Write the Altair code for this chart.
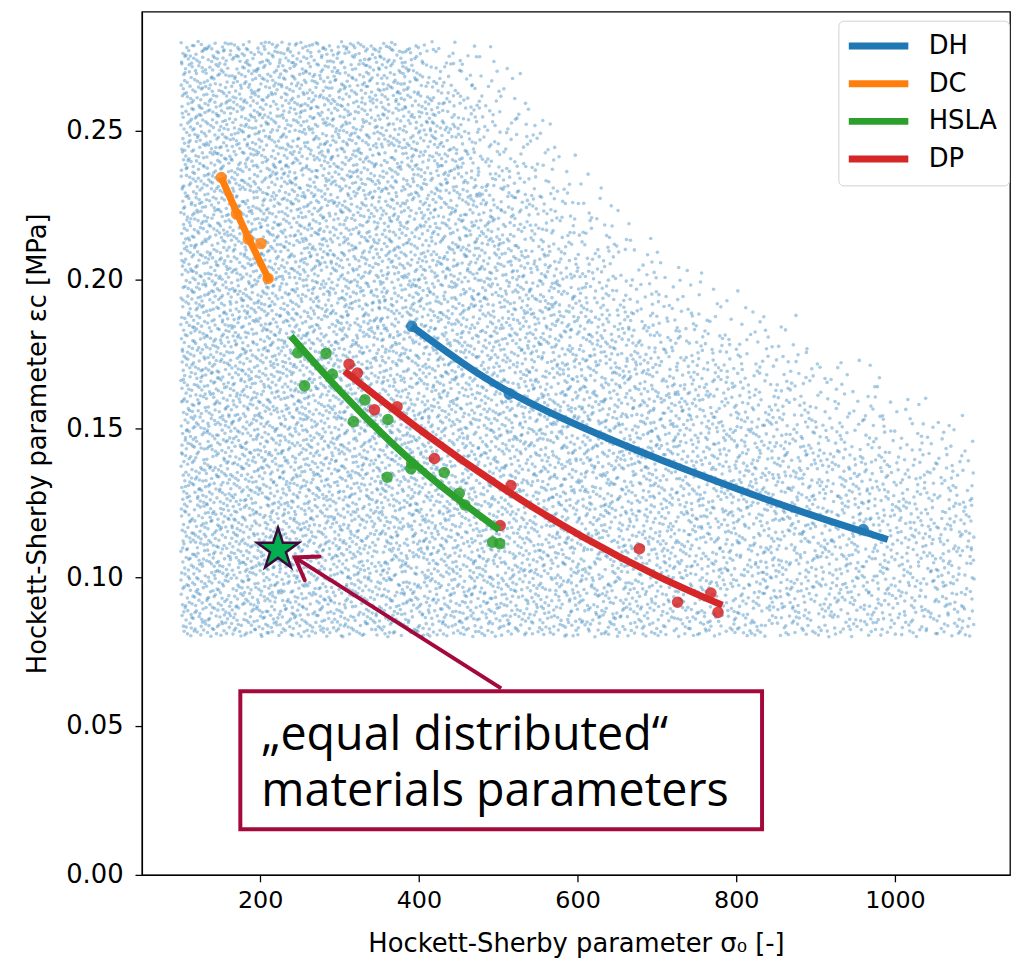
import altair as alt
import pandas as pd
import numpy as np

# ---------------- data ----------------
series_names = ["DH", "DC", "HSLA", "DP"]
series_colors = ["#1f77b4", "#ff7f0e", "#2ca02c", "#d62728"]

dh_x = [391, 514, 960]
dh_y = [0.1843, 0.1616, 0.1160]
dh_fit_x = [391, 456, 514, 622, 747, 872, 991]
dh_fit_y = [0.1843, 0.1716, 0.1616, 0.1482, 0.1349, 0.1227, 0.1127]

dc_x = [151, 170, 185, 201, 210]
dc_y = [0.2343, 0.2221, 0.2136, 0.2121, 0.2004]
dc_fit_x = [151, 170, 190, 212]
dc_fit_y = [0.2343, 0.2228, 0.2112, 0.1995]

hsla_x = [247.5, 283, 291, 256, 332, 317.5, 361, 391, 390, 432, 360, 451, 458, 493, 502]
hsla_y = [0.1754, 0.1752, 0.1682, 0.1643, 0.1596, 0.1523, 0.1530, 0.1382, 0.1365,
          0.1352, 0.1336, 0.1282, 0.1243, 0.1118, 0.1113]
hsla_fit_x = [238.75, 301.25, 363.75, 426.25, 501.25]
hsla_fit_y = [0.1810, 0.1621, 0.1453, 0.1306, 0.1159]

dp_x = [312, 322.5, 344, 372.5, 419.6, 516, 502.5, 678, 768, 726, 777]
dp_y = [0.1716, 0.1686, 0.1563, 0.1573, 0.1399, 0.1308, 0.1174, 0.1096, 0.0947, 0.0916, 0.0882]
dp_fit_x = [306.25, 406.25, 506.25, 606.25, 706.25, 782.5]
dp_fit_y = [0.1693, 0.1482, 0.1295, 0.1132, 0.0994, 0.0906]

# highlighted parameter set (star)
star_x = [222.5]
star_y = [0.1093]

# background "equal distributed" parameter cloud: extent
cloud_x_range = [100, 1100]
cloud_y_range = [0.08, 0.28]
cloud_edge_x = [100, 350, 400, 450, 500, 600, 700, 800, 900, 1000, 1100]
cloud_full_y = [0.29, 0.29, 0.27, 0.24, 0.21, 0.185, 0.165, 0.15, 0.138, 0.128, 0.12]
cloud_zero_y = [0.30, 0.30, 0.295, 0.29, 0.285, 0.245, 0.215, 0.2, 0.185, 0.17, 0.155]
cloud_dens_x = [100, 1100]
cloud_dens = [1.0, 0.55]
cloud_n = 19000

# annotation
ann_box_x = [175, 832.5]
ann_box_y = [0.0617, 0.0153]
ann_text = "\u201eequal distributed\u201c\nmaterials parameters"
ann_text_x = [201.5]
ann_text_y = [0.0420]
arrow_tail = [503.75, 0.06267]
arrow_tip = [243.75, 0.10667]
arrow_wing_a = [275.0, 0.1070]
arrow_wing_b = [256.25, 0.0990]
maroon = "#a3093b"

x_ticks = [200, 400, 600, 800, 1000]
y_ticks = [0.0, 0.05, 0.10, 0.15, 0.20, 0.25]

# ---------------- build tables ----------------
def halton(i, b):
    f, r = 1.0, 0.0
    while i > 0:
        f /= b
        r += f * (i % b)
        i //= b
    return r

idx = np.arange(1, cloud_n + 1)
hx = np.array([halton(i, 2) for i in idx])
hy = np.array([halton(i, 3) for i in idx])
hu = np.array([halton(i, 5) for i in idx])
cx = cloud_x_range[0] + (cloud_x_range[1] - cloud_x_range[0]) * hx
cy = cloud_y_range[0] + (cloud_y_range[1] - cloud_y_range[0]) * hy
full = np.interp(cx, cloud_edge_x, cloud_full_y)
zero = np.interp(cx, cloud_edge_x, cloud_zero_y)
p = np.clip((zero - cy) / (zero - full), 0, 1) * np.interp(cx, cloud_dens_x, cloud_dens)
keep = hu < p
cloud = pd.DataFrame({"x": cx[keep], "y": cy[keep]})

marker_sets = [(dh_x, dh_y), (dc_x, dc_y), (hsla_x, hsla_y), (dp_x, dp_y)]

fits = pd.concat([
    pd.DataFrame({"x": dh_fit_x, "y": dh_fit_y, "series": "DH"}),
    pd.DataFrame({"x": dc_fit_x, "y": dc_fit_y, "series": "DC"}),
    pd.DataFrame({"x": hsla_fit_x, "y": hsla_fit_y, "series": "HSLA"}),
    pd.DataFrame({"x": dp_fit_x, "y": dp_fit_y, "series": "DP"}),
], ignore_index=True)

star = pd.DataFrame({"x": star_x, "y": star_y})
box = pd.DataFrame({"x": [ann_box_x[0]], "x2": [ann_box_x[1]],
                    "y": [ann_box_y[0]], "y2": [ann_box_y[1]]})
texts = pd.DataFrame({"x": ann_text_x, "y": ann_text_y, "t": [ann_text]})
shaft = pd.DataFrame({"x": [arrow_tail[0]], "y": [arrow_tail[1]],
                      "x2": [arrow_tip[0]], "y2": [arrow_tip[1]]})
head = pd.DataFrame({"x": [arrow_wing_a[0], arrow_tip[0], arrow_wing_b[0]],
                     "y": [arrow_wing_a[1], arrow_tip[1], arrow_wing_b[1]],
                     "o": [0, 1, 2]})

# ---------------- chart ----------------
xscale = alt.Scale(domain=[51, 1145], nice=False, zero=False)
yscale = alt.Scale(domain=[0, 0.29], nice=False, zero=False)
cscale = alt.Scale(domain=series_names, range=series_colors)

X = alt.X("x:Q", scale=xscale, axis=alt.Axis(
    values=x_ticks, format="d", title="Hockett-Sherby parameter σ₀ [-]",
    titleY=56, titleBaseline="top", labelPadding=7, labelFontSize=24))
Y = alt.Y("y:Q", scale=yscale, axis=alt.Axis(
    values=y_ticks, format=".2f", title="Hockett-Sherby parameter εc [MPa]",
    titleX=-92, labelPadding=12, labelFontSize=26))

bg = alt.Chart(cloud).mark_circle(size=13, opacity=0.38, color="#1f77b4").encode(x=X, y=Y)

pt_layers = []
for (mx, my), col in zip(marker_sets, series_colors):
    pt_layers.append(
        alt.Chart(pd.DataFrame({"x": mx, "y": my})).mark_circle(
            size=135, opacity=0.85, color=col).encode(x="x:Q", y="y:Q"))

lines = alt.Chart(fits).mark_line(strokeWidth=7, interpolate="basis").encode(
    x="x:Q", y="y:Q",
    color=alt.Color("series:N", scale=cscale, sort=series_names, legend=alt.Legend(
        title=None, orient="none", legendX=702, legendY=9,
        symbolType="M-1,0L5,0", symbolSize=400, symbolStrokeWidth=7,
        symbolOffset=-5, labelOffset=57, rowPadding=9, padding=12,
        labelFont="DejaVu Sans", labelFontSize=26, labelColor="black",
        strokeColor="#d0d0d0", fillColor="white", cornerRadius=5)))

star_path = ("M0,-1L0.2245,-0.309L0.9511,-0.309L0.3633,0.118L0.5878,0.809L0,0.382"
             "L-0.5878,0.809L-0.3633,0.118L-0.9511,-0.309L-0.2245,-0.309Z")
star_l = alt.Chart(star).mark_point(shape=star_path, size=1936, filled=True,
                                    fill="#00b050", stroke="#3a0a3a",
                                    strokeWidth=2.5, opacity=1).encode(x="x:Q", y="y:Q")

shaft_l = alt.Chart(shaft).mark_rule(color=maroon, strokeWidth=4).encode(
    x="x:Q", y="y:Q", x2="x2:Q", y2="y2:Q")
head_l = alt.Chart(head).mark_line(color=maroon, strokeWidth=4, strokeCap="round",
                                   strokeJoin="miter").encode(
    x="x:Q", y="y:Q", order="o:Q")

box_l = alt.Chart(box).mark_rect(fill="white", stroke=maroon, strokeWidth=4).encode(
    x="x:Q", x2="x2:Q", y="y:Q", y2="y2:Q")
text_l = alt.Chart(texts).mark_text(align="left", baseline="alphabetic",
                                    font="Open Sans", fontSize=47, color="black",
                                    lineBreak="\n", lineHeight=57).encode(
    x="x:Q", y="y:Q", text="t:N")

chart = alt.layer(bg, *pt_layers, lines, star_l, shaft_l, head_l, box_l, text_l).properties(
    width=875, height=870,
    autosize=alt.AutoSizeParams(type="none"),
    padding={"left": 135, "top": 0, "right": 2, "bottom": 80},
).configure_view(stroke="black", strokeWidth=1.3).configure_axis(
    grid=False, domainColor="black", domainWidth=1.3, tickColor="black",
    tickWidth=1.3, tickSize=7, labelFont="DejaVu Sans",
    labelColor="black", titleFont="DejaVu Sans",
    titleFontSize=26, titleFontWeight="normal", titleColor="black"
)

chart.save("out.html", embed_options={"renderer": "svg", "actions": False})
